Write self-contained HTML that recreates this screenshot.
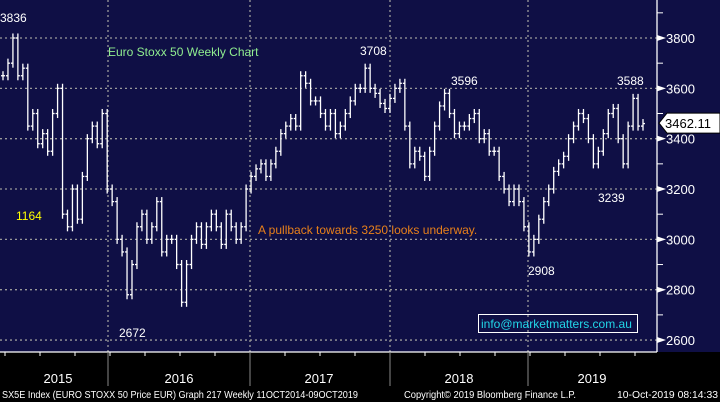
<!DOCTYPE html>
<html><head><meta charset="utf-8"><style>
html,body{margin:0;padding:0;background:#000;}
#wrap{width:720px;height:402px;position:relative;overflow:hidden;font-family:"Liberation Sans",sans-serif;}
svg{position:absolute;left:0;top:0;}
</style></head><body>
<div id="wrap">
<svg id="chart" width="720" height="402"></svg>
</div>
<script>
// Approximate weekly-ish closes, Oct 2014 - Oct 2019 (Euro Stoxx 50)
const closes = [3650,3700,3800,3650,3680,3450,3500,3380,3420,3350,3500,3600,3100,3050,3200,3080,3250,3400,3450,3380,3500,3200,3150,3000,2950,2780,2900,3050,3100,3000,3050,3150,2950,3000,3000,2900,2750,2900,3000,3050,2980,3050,3100,3050,2980,3100,3050,3000,3050,3200,3250,3280,3300,3250,3300,3350,3420,3450,3480,3450,3650,3620,3550,3550,3500,3450,3500,3420,3450,3500,3550,3600,3600,3680,3600,3580,3540,3520,3560,3600,3620,3450,3300,3350,3330,3250,3350,3450,3530,3580,3500,3420,3450,3450,3480,3500,3400,3420,3350,3350,3250,3200,3150,3200,3150,3050,2950,3000,3080,3150,3200,3270,3300,3330,3400,3450,3500,3480,3400,3300,3350,3420,3500,3520,3400,3300,3450,3560,3450,3460];
const yTicks = [3800,3600,3400,3200,3000,2800,2600];
const years = ["2015","2016","2017","2018","2019"];
const lastPrice = "3462.11";

const NS="http://www.w3.org/2000/svg";
const svg=document.getElementById('chart');
function mk(tag,attrs,parent){const e=document.createElementNS(NS,tag);for(const k in attrs)e.setAttribute(k,attrs[k]);(parent||svg).appendChild(e);return e;}
const yScale=v=>38+(3800-v)*0.2517;
const xScale=i=>3+i*(640/(closes.length-1));

const bg=mk('rect',{x:0,y:0,width:657,height:352,fill:'#0f0f45'});


const rbg=mk('rect',{x:657,y:0,width:63,height:352,fill:'#0f0f45'});



yTicks.forEach(t=>{
  const g=mk('line',{x1:0,x2:657,y1:yScale(t),y2:yScale(t),stroke:'#9a9a9a','stroke-width':1.3,'stroke-dasharray':'2,3'});
  
  
});
const yearX=[108,250,390,528];
yearX.forEach(x=>{
  const g=mk('line',{x1:x,x2:x,y1:0,y2:352,stroke:'#9a9a9a','stroke-width':1.3,'stroke-dasharray':'2,3'});
  
  
});

closes.forEach((c,i)=>{
  const p=i>0?closes[i-1]:c;
  const hi=Math.max(p,c)+18, lo=Math.min(p,c)-18;
  const x=xScale(i);
  const g=mk('g',{stroke:'#fff','stroke-width':1.3});
  
  
  mk('line',{x1:x,x2:x,y1:yScale(hi),y2:yScale(lo)},g);
  mk('line',{x1:x-2,x2:x,y1:yScale(p),y2:yScale(p)},g);
  mk('line',{x1:x,x2:x+2,y1:yScale(c),y2:yScale(c)},g);
});

const ax=mk('line',{x1:657,x2:657,y1:0,y2:352,stroke:'#fff','stroke-width':1.3});


for(let v=2600;v<=3900;v+=100){
  const mt=mk('line',{x1:657,x2:663,y1:yScale(v),y2:yScale(v),stroke:'#fff','stroke-width':1});
  
  
}
yTicks.forEach(t=>{
  const y=yScale(t);
  const ar=mk('polygon',{points:`657,${y-3} 666,${y} 657,${y+3}`,fill:'#fff'});
  
  
  const tx=mk('text',{x:666,y:y+5,fill:'#fff','font-size':13});
  tx.textContent=t;
  
  
});
const ly=yScale(3462);
const tag=mk('polygon',{points:`659,${ly} 667,${ly-10} 720,${ly-10} 720,${ly+10} 667,${ly+10}`,fill:'#fff',stroke:'#000'});


const tt=mk('text',{x:665,y:ly+5,fill:'#000','font-size':13});
tt.textContent=lastPrice;



const xa=mk('line',{x1:0,x2:657,y1:352,y2:352,stroke:'#fff','stroke-width':1.3});


for(let x=5;x<657;x+=35){
  const tk=mk('line',{x1:x,x2:x,y1:352,y2:356,stroke:'#fff'});
  
  
}
yearX.forEach(x=>{
  const s=mk('line',{x1:x,x2:x,y1:352,y2:386,stroke:'#888'});
  
  
});
const yearCx=[58,179,319,459,592];
years.forEach((y,i)=>{
  const t=mk('text',{x:yearCx[i],y:383,fill:'#fff','font-size':13,'text-anchor':'middle'});
  t.textContent=y;
  
  
});

function label(txt,x,y,fill,size,name,anchor,len){
  const a={x:x,y:y,fill:fill,'font-size':size,'text-anchor':anchor||'start'};
  if(len){a.textLength=len;a.lengthAdjust='spacingAndGlyphs';}
  const t=mk('text',a);
  t.textContent=txt;
  
  
  return t;
}
label('3836',0,22,'#fff',12,'high-annotation');
label('Euro Stoxx 50 Weekly Chart',108,56,'#90ee90',12,'chart-title');
label('3708',360,55,'#fff',12,'peak-annotation-2017');
label('3596',451,85,'#fff',12,'peak-annotation-2018');
label('3588',617,85,'#fff',12,'peak-annotation-2019');
label('1164',16,220,'#ffff00',12,'count-annotation');
label('A pullback towards 3250 looks underway.',258,234,'#e8801a',12,'commentary-text');
label('2672',119,337,'#fff',12,'low-annotation-2016');
label('2908',528,275,'#fff',12,'low-annotation-2018');
label('3239',598,202,'#fff',12,'low-annotation-2019');
const eb=mk('rect',{x:478.5,y:314.5,width:159,height:18,fill:'none',stroke:'#fff'});


label('info@marketmatters.com.au',481,328,'#22d6e8',12,'email-text');

label('SX5E Index (EURO STOXX 50 Price EUR) Graph 217  Weekly 11OCT2014-09OCT2019',2,398,'#fff',10,'footer-description','start',356);
label('Copyright\u00a9 2019 Bloomberg Finance L.P.',404,398,'#fff',10,'footer-copyright','start',172);
label('10-Oct-2019 08:14:33',617,398,'#fff',10,'footer-timestamp','start',101);
</script>
</body></html>
